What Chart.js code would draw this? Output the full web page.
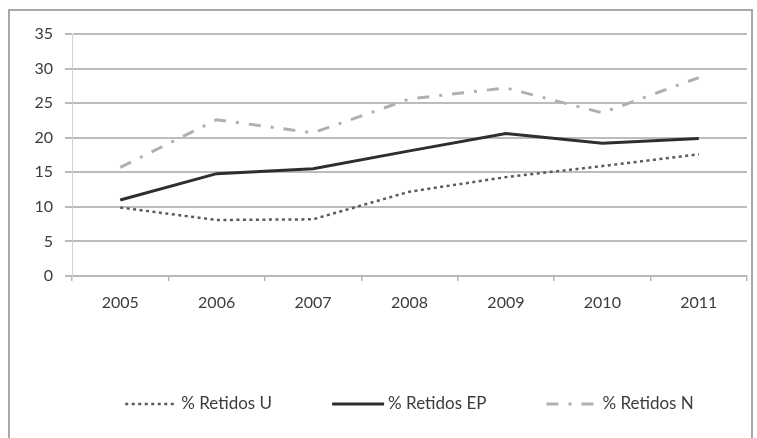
<!DOCTYPE html>
<html>
<head>
<meta charset="utf-8">
<script src="https://cdn.jsdelivr.net/npm/chart.js@4/dist/chart.umd.min.js"></script>
<style>
  html, body { margin: 0; padding: 0; background: #ffffff; }
  #frame {
    position: absolute; left: 0; top: 0; width: 757px; height: 438px; overflow: hidden;
  }
  #border {
    position: absolute; left: 8px; top: 9px; width: 745px; height: 440px;
    border: 2px solid #a8a8a8; box-sizing: border-box;
  }
  canvas { position: absolute; left: 0; top: 0; }
</style>
</head>
<body>
<div id="frame">
  <div id="border"></div>
  <canvas id="chart" width="757" height="438"></canvas>
</div>
<script>
// Years on the horizontal axis
const years = ['2005', '2006', '2007', '2008', '2009', '2010', '2011'];

// Percentage retained per group
const retidosU  = [9.9, 8.1, 8.2, 12.2, 14.3, 15.9, 17.6];
const retidosEP = [11.0, 14.8, 15.5, 18.1, 20.6, 19.2, 19.9];
const retidosN  = [15.7, 22.6, 20.7, 25.6, 27.2, 23.6, 28.7];

// Series names shown in the legend
const seriesNames = ['% Retidos U', '% Retidos EP', '% Retidos N'];

const FONT = "Lato, 'Open Sans', 'Liberation Sans', sans-serif";
const TEXT = '#3c3c3c';

// Legend drawn below the axis: a line sample in each series' own stroke style, then its name
const lineLegend = {
  id: 'lineLegend',
  afterDraw(chart, args, opts) {
    const ctx = chart.ctx;
    const area = chart.chartArea;
    ctx.save();
    ctx.font = `${opts.fontSize}px ${FONT}`;
    const items = chart.data.datasets.map(ds => ({
      ds,
      textW: ctx.measureText(ds.label).width
    }));
    const itemW = it => opts.sample + opts.gap + it.textW;
    const total = items.reduce((s, it) => s + itemW(it), 0) + opts.spacing * (items.length - 1);
    let x = (area.left + area.right) / 2 - total / 2;
    const y = opts.y;
    items.forEach(it => {
      const ds = it.ds;
      ctx.beginPath();
      ctx.setLineDash(ds.borderDash || []);
      ctx.lineWidth = ds.borderWidth;
      ctx.strokeStyle = ds.borderColor;
      ctx.lineCap = 'butt';
      ctx.moveTo(x, y);
      ctx.lineTo(x + opts.sample, y);
      ctx.stroke();
      ctx.setLineDash([]);
      ctx.fillStyle = TEXT;
      ctx.textBaseline = 'middle';
      ctx.textAlign = 'left';
      ctx.fillText(ds.label, x + opts.sample + opts.gap, y);
      x += itemW(it) + opts.spacing;
    });
    ctx.restore();
  }
};

new Chart(document.getElementById('chart'), {
  type: 'line',
  data: {
    labels: years,
    datasets: [
      {
        label: seriesNames[0],
        data: retidosU,
        borderColor: '#5a5a5a',
        borderWidth: 2.5,
        borderDash: [3, 3.5],
        pointRadius: 0,
        fill: false
      },
      {
        label: seriesNames[1],
        data: retidosEP,
        borderColor: '#2e2e2e',
        borderWidth: 3,
        pointRadius: 0,
        fill: false
      },
      {
        label: seriesNames[2],
        data: retidosN,
        borderColor: '#b0b0b0',
        borderWidth: 3,
        borderDash: [12, 10, 3, 10],
        pointRadius: 0,
        fill: false
      }
    ]
  },
  plugins: [lineLegend],
  options: {
    responsive: false,
    animation: false,
    layout: { padding: { top: 34, right: 10, bottom: 117, left: 0 } },
    plugins: {
      tooltip: { enabled: false },
      legend: { display: false },
      lineLegend: { y: 404, sample: 52, gap: 4, spacing: 60, fontSize: 17 }
    },
    scales: {
      x: {
        offset: true,
        grid: {
          offset: true,
          drawOnChartArea: false,
          drawTicks: true,
          tickLength: 5,
          color: '#b8b8b8',
          lineWidth: 1.5
        },
        border: { display: true, color: '#b8b8b8', width: 2 },
        ticks: {
          color: TEXT,
          font: { family: FONT, size: 16 },
          padding: 12,
          maxRotation: 0
        },
        afterFit: (scale) => { scale.height = 45; }
      },
      y: {
        min: 0,
        max: 35,
        grid: {
          color: '#bcbcbc',
          lineWidth: 2,
          tickLength: 7,
          drawTicks: true
        },
        border: { display: true, color: '#d0d0d0', width: 1 },
        ticks: {
          stepSize: 5,
          color: TEXT,
          font: { family: FONT, size: 16 },
          padding: 12
        },
        afterFit: (scale) => { scale.width = 72; }
      }
    }
  }
});
</script>
</body>
</html>
